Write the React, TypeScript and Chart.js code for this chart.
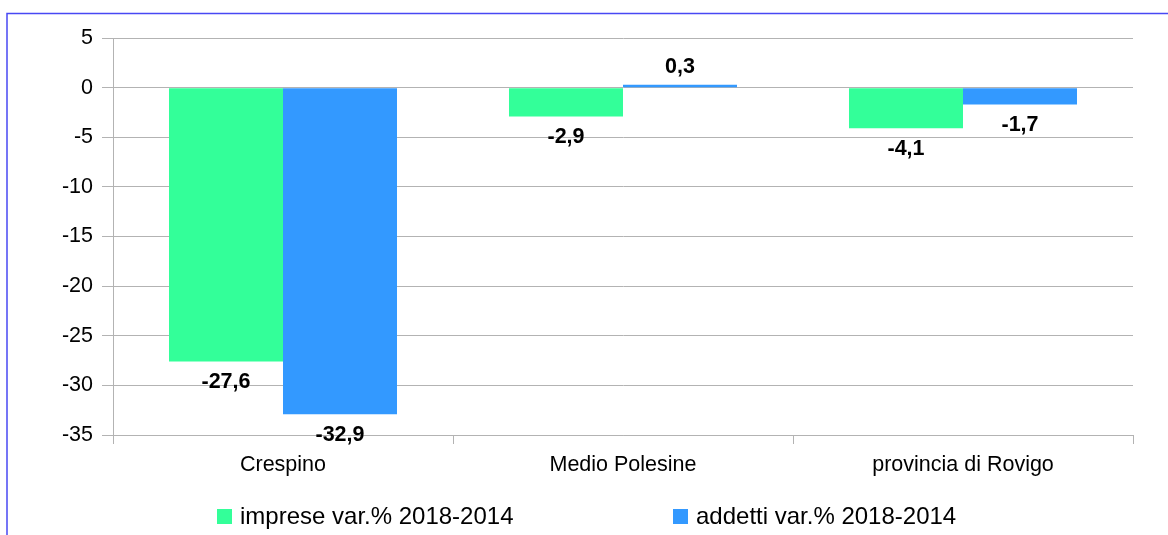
import React, { useEffect, useRef } from "react";
import { Chart, registerables } from "chart.js";

Chart.register(...registerables);

const categories = ["Crespino", "Medio Polesine", "provincia di Rovigo"];
const impreseVar = [-27.6, -2.9, -4.1];
const addettiVar = [-32.9, 0.3, -1.7];
const seriesLabels = ["imprese var.% 2018-2014", "addetti var.% 2018-2014"];
const seriesColors = ["#33ff99", "#3399ff"];
const yMin = -35;
const yMax = 5;
const yStep = 5;

const FONT = "'Liberation Sans', Arial, sans-serif";
const GRID = "#b3b3b3";

const fmt = (v: number) => v.toFixed(1).replace(".", ",");

const decorPlugin = {
  id: "decor",
  afterDatasetsDraw(chart: any) {
    const ctx = chart.ctx;
    ctx.save();
    ctx.font = `bold 21.5px ${FONT}`;
    ctx.fillStyle = "#000";
    ctx.textAlign = "center";
    ctx.textBaseline = "middle";
    chart.data.datasets.forEach((ds: any, di: number) => {
      const meta = chart.getDatasetMeta(di);
      meta.data.forEach((bar: any, i: number) => {
        const v = ds.data[i];
        const y = v < 0 ? bar.y + 21 : bar.y - 18;
        ctx.fillText(fmt(v), bar.x, y);
      });
    });
    ctx.restore();
  },
  afterDraw(chart: any) {
    const ctx = chart.ctx;
    ctx.save();
    // outer border
    ctx.strokeStyle = "#4848f4";
    ctx.lineWidth = 1.5;
    ctx.strokeRect(7, 13.5, 1300, 700);
    // legend
    const starts = [217, 673];
    const yMid = 516;
    ctx.font = `24px ${FONT}`;
    ctx.textBaseline = "middle";
    ctx.textAlign = "left";
    seriesLabels.forEach((lbl, i) => {
      ctx.fillStyle = seriesColors[i];
      ctx.fillRect(starts[i], yMid - 7, 15, 15);
      ctx.fillStyle = "#000";
      ctx.fillText(lbl, starts[i] + 23, yMid + 1);
    });
    ctx.restore();
  },
};

export default function App() {
  const ref = useRef<HTMLCanvasElement>(null);
  useEffect(() => {
    if (!ref.current) return;
    const chart = new Chart(ref.current, {
      type: "bar",
      data: {
        labels: categories,
        datasets: [
          {
            label: seriesLabels[0],
            data: impreseVar,
            backgroundColor: seriesColors[0],
            barPercentage: 1,
            categoryPercentage: 0.6706,
          },
          {
            label: seriesLabels[1],
            data: addettiVar,
            backgroundColor: seriesColors[1],
            barPercentage: 1,
            categoryPercentage: 0.6706,
          },
        ],
      },
      options: {
        responsive: false,
        animation: false,
        layout: { padding: { top: 38, right: 35, left: 0, bottom: 0 } },
        plugins: {
          legend: { display: false },
          tooltip: { enabled: false },
        },
        scales: {
          x: {
            offset: true,
            grid: {
              offset: true,
              drawOnChartArea: true,
              color: (c: any) => (c.index === 3 ? GRID : "rgba(0,0,0,0)"),
              tickColor: GRID,
              tickLength: 9,
              lineWidth: 1,
            },
            border: { display: true, color: GRID },
            ticks: {
              color: "#000",
              font: { family: FONT, size: 21.5 },
              padding: 8,
              maxRotation: 0,
            },
            afterFit: (s: any) => {
              s.height = 100;
            },
          },
          y: {
            min: yMin,
            max: yMax,
            grid: { color: GRID, tickLength: 11, lineWidth: 1 },
            border: { display: true, color: GRID },
            ticks: {
              stepSize: yStep,
              color: "#000",
              font: { family: FONT, size: 21.5 },
              padding: 9,
              callback: (v: any) => String(v),
            },
            afterFit: (s: any) => {
              s.width = 113;
            },
          },
        },
      },
      plugins: [decorPlugin],
    });
    return () => chart.destroy();
  }, []);
  return (
    <div style={{ position: "fixed", left: 0, top: 0, width: 1168, height: 535, background: "#fff" }}>
      <canvas ref={ref} width={1168} height={535} />
    </div>
  );
}
